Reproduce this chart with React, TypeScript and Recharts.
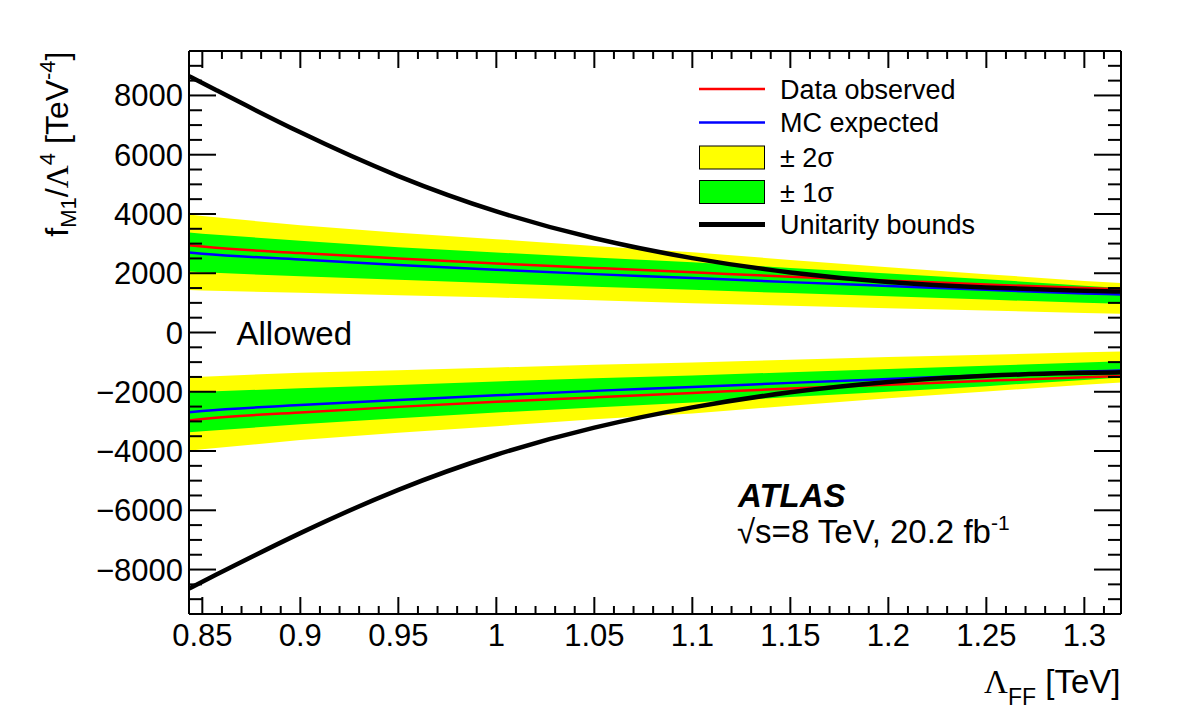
import { ComposedChart, Area, Line, XAxis, YAxis } from "recharts";

// Lambda_FF [TeV] sample points
const lambdaFF = [0.8432, 0.85, 0.9, 0.95, 1.0, 1.05, 1.1, 1.15, 1.2, 1.25, 1.3, 1.3187];

// unitarity bounds
const unitarityUp = [8650, 8420, 6720, 5230, 4040, 3140, 2480, 2000, 1680, 1510, 1400, 1385];
const unitarityDown = [-8640, -8410, -6740, -5260, -4080, -3170, -2500, -1990, -1650, -1440, -1360, -1345];

// upper limit branch
const observedUp = [2947, 2900, 2680, 2500, 2330, 2180, 2030, 1880, 1750, 1620, 1500, 1460];
const expectedUp = [2698, 2660, 2460, 2280, 2120, 1970, 1840, 1700, 1570, 1440, 1320, 1280];
const sigma1UpHi = [3372, 3330, 3100, 2880, 2700, 2530, 2370, 2180, 1990, 1800, 1580, 1500];
const sigma1UpLo = [2060, 2030, 1900, 1780, 1660, 1540, 1440, 1330, 1220, 1110, 1000, 970];
const sigma2UpHi = [3980, 3930, 3620, 3370, 3150, 2920, 2710, 2450, 2200, 1970, 1740, 1670];
const sigma2UpLo = [1431, 1420, 1340, 1260, 1180, 1090, 990, 900, 820, 740, 660, 630];

// lower limit branch
const observedDown = [-2971, -2920, -2700, -2510, -2340, -2190, -2040, -1890, -1760, -1630, -1510, -1470];
const expectedDown = [-2691, -2650, -2450, -2280, -2120, -1970, -1840, -1700, -1570, -1440, -1320, -1280];
const sigma1DownHi = [-2017, -2000, -1880, -1770, -1650, -1540, -1450, -1340, -1230, -1120, -1010, -970];
const sigma1DownLo = [-3365, -3330, -3100, -2890, -2700, -2530, -2360, -2180, -2000, -1810, -1600, -1520];
const sigma2DownHi = [-1512, -1490, -1360, -1270, -1180, -1090, -1010, -920, -830, -750, -670, -640];
const sigma2DownLo = [-3990, -3940, -3630, -3380, -3160, -2930, -2730, -2470, -2220, -1990, -1760, -1690];

const xTicks = Array.from({ length: 47 }, (_, i) => Math.round((0.85 + i * 0.01) * 100) / 100);
const yTicks = Array.from({ length: 39 }, (_, i) => -9500 + i * 500);

const data = lambdaFF.map((x, i) => ({
  x,
  uUp: unitarityUp[i],
  uDown: unitarityDown[i],
  obsUp: observedUp[i],
  expUp: expectedUp[i],
  obsDown: observedDown[i],
  expDown: expectedDown[i],
  s1Up: [sigma1UpLo[i], sigma1UpHi[i]],
  s2Up: [sigma2UpLo[i], sigma2UpHi[i]],
  s1Down: [sigma1DownLo[i], sigma1DownHi[i]],
  s2Down: [sigma2DownLo[i], sigma2DownHi[i]],
}));

const FONT = "'Liberation Sans', Arial, Helvetica, sans-serif";
const YELLOW = "#ffff00";
const GREEN = "#00ff00";

const isMajorX = (v: number) => Math.round(v * 100) % 5 === 0;
const isMajorY = (v: number) => v % 2000 === 0;

function XTick(props: any) {
  const { x, y, payload, side } = props;
  const v = payload.value;
  const major = isMajorX(v);
  const len = major ? 17 : 8;
  const dir = side === "bottom" ? -1 : 1;
  return (
    <g>
      <line x1={x} y1={y} x2={x} y2={y + dir * len} stroke="#000" strokeWidth={2} />
      {side === "bottom" && major && (
        <text x={x} y={y + 32} textAnchor="middle" fontSize={31} fontFamily={FONT} fill="#000">
          {String(v)}
        </text>
      )}
    </g>
  );
}

function YTick(props: any) {
  const { x, y, payload, side } = props;
  const v = payload.value;
  const major = isMajorY(v);
  const len = major ? 27 : 13;
  const dir = side === "left" ? 1 : -1;
  return (
    <g>
      <line x1={x} y1={y} x2={x + dir * len} y2={y} stroke="#000" strokeWidth={2} />
      {side === "left" && major && (
        <text x={x - 6} y={y + 11} textAnchor="end" fontSize={31} fontFamily={FONT} fill="#000">
          {v < 0 ? `\u2212${Math.abs(v)}` : String(v)}
        </text>
      )}
    </g>
  );
}

const legendItems = [
  { label: "Data observed", kind: "line", color: "#ff0000", width: 2.5 },
  { label: "MC expected", kind: "line", color: "#0000ff", width: 2.5 },
  { label: "\u00b1 2\u03c3", kind: "box", color: YELLOW },
  { label: "\u00b1 1\u03c3", kind: "box", color: GREEN },
  { label: "Unitarity bounds", kind: "line", color: "#000000", width: 5 },
];
const legendRows = [89, 122.5, 157.5, 192, 224.5];

export default function App() {
  return (
    <div style={{ position: "absolute", left: 0, top: 0, width: 1182, height: 715, background: "#fff" }}>
      <ComposedChart width={1182} height={715} data={data} margin={{ top: 0, right: 0, bottom: 0, left: 0 }}>
        <XAxis
          dataKey="x"
          type="number"
          domain={[0.8432, 1.3187]}
          allowDataOverflow
          ticks={xTicks}
          interval={0}
          height={101}
          tickSize={0}
          tickMargin={0}
          tickLine={false}
          axisLine={{ stroke: "#000", strokeWidth: 2 }}
          tick={<XTick side="bottom" />}
        />
        <XAxis
          xAxisId="top"
          orientation="top"
          type="number"
          dataKey="x"
          domain={[0.8432, 1.3187]}
          allowDataOverflow
          ticks={xTicks}
          interval={0}
          height={51}
          tickSize={0}
          tickMargin={0}
          tickLine={false}
          axisLine={{ stroke: "#000", strokeWidth: 2 }}
          tick={<XTick side="top" />}
        />
        <YAxis
          type="number"
          domain={[-9500, 9500]}
          allowDataOverflow
          ticks={yTicks}
          interval={0}
          width={189}
          tickSize={0}
          tickMargin={0}
          tickLine={false}
          axisLine={{ stroke: "#000", strokeWidth: 2 }}
          tick={<YTick side="left" />}
        />
        <YAxis
          yAxisId="right"
          orientation="right"
          type="number"
          domain={[-9500, 9500]}
          allowDataOverflow
          ticks={yTicks}
          interval={0}
          width={61}
          tickSize={0}
          tickMargin={0}
          tickLine={false}
          axisLine={{ stroke: "#000", strokeWidth: 2 }}
          tick={<YTick side="right" />}
        />
        <Area dataKey="s2Up" type="linear" stroke="none" fill={YELLOW} fillOpacity={1} isAnimationActive={false} />
        <Area dataKey="s2Down" type="linear" stroke="none" fill={YELLOW} fillOpacity={1} isAnimationActive={false} />
        <Area dataKey="s1Up" type="linear" stroke="none" fill={GREEN} fillOpacity={1} isAnimationActive={false} />
        <Area dataKey="s1Down" type="linear" stroke="none" fill={GREEN} fillOpacity={1} isAnimationActive={false} />
        <Line dataKey="expUp" type="monotone" stroke="#0000ff" strokeWidth={2.5} dot={false} isAnimationActive={false} />
        <Line dataKey="expDown" type="monotone" stroke="#0000ff" strokeWidth={2.5} dot={false} isAnimationActive={false} />
        <Line dataKey="obsUp" type="monotone" stroke="#ff0000" strokeWidth={2.5} dot={false} isAnimationActive={false} />
        <Line dataKey="obsDown" type="monotone" stroke="#ff0000" strokeWidth={2.5} dot={false} isAnimationActive={false} />
        <Line dataKey="uUp" type="basis" stroke="#000" strokeWidth={4.5} dot={false} isAnimationActive={false} />
        <Line dataKey="uDown" type="basis" stroke="#000" strokeWidth={4.5} dot={false} isAnimationActive={false} />
      </ComposedChart>

      <svg
        width={1182}
        height={715}
        style={{ position: "absolute", left: 0, top: 0, pointerEvents: "none" }}
        fontFamily={FONT}
      >
        {legendItems.map((item, i) => {
          const cy = legendRows[i];
          return (
            <g key={item.label}>
              {item.kind === "line" ? (
                <line x1={699} x2={765} y1={cy} y2={cy} stroke={item.color} strokeWidth={item.width} />
              ) : (
                <rect x={699.5} y={cy - 11.5} width={65} height={23} fill={item.color} stroke="#000" strokeWidth={1} />
              )}
              <text x={780} y={cy + 9.5} fontSize={27} fill="#000">
                {item.label}
              </text>
            </g>
          );
        })}

        <text x={236.5} y={345} fontSize={33} fill="#000">
          Allowed
        </text>
        <text x={738} y={507} fontSize={33} fontWeight="bold" fontStyle="italic" fill="#000">
          ATLAS
        </text>
        <text x={737} y={543} fontSize={33} fill="#000">
          {"\u221as=8 TeV, 20.2 fb"}
          <tspan fontSize={21} dy={-13}>
            -1
          </tspan>
        </text>

        <text x={1120.5} y={693} textAnchor="end" fontSize={33} fill="#000">
          <tspan fontFamily="'Liberation Serif', serif">{"\u039b"}</tspan>
          <tspan fontSize={23} dy={12}>
            FF
          </tspan>
          <tspan dy={-12}> [TeV]</tspan>
        </text>

        <text transform="translate(67.5, 51.5) rotate(-90)" textAnchor="end" fontSize={32} fill="#000">
          f
          <tspan fontSize={22} dy={8}>
            M1
          </tspan>
          <tspan dy={-8}>/</tspan>
          <tspan fontFamily="'Liberation Serif', serif">{"\u039b"}</tspan>
          <tspan fontSize={22} dy={-13}>
            4
          </tspan>
          <tspan dy={13}> [TeV</tspan>
          <tspan fontSize={22} dy={-13}>
            -4
          </tspan>
          <tspan dy={13}>]</tspan>
        </text>
      </svg>
    </div>
  );
}
